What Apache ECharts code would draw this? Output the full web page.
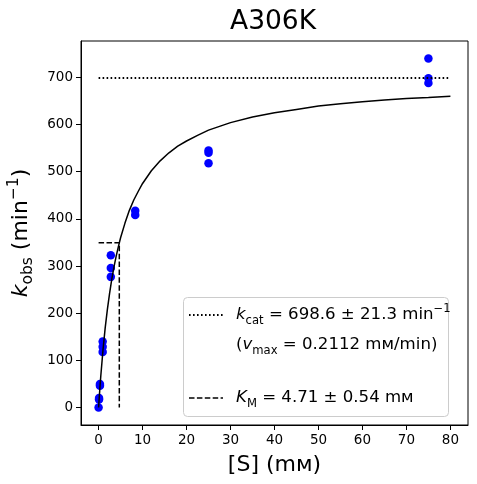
<!DOCTYPE html>
<html>
<head>
<meta charset="utf-8">
<script src="https://cdn.jsdelivr.net/npm/echarts@6/dist/echarts.min.js"></script>
<style>
  html, body { margin: 0; padding: 0; background: #fff; }
  #chart { width: 477px; height: 484px; }
</style>
</head>
<body>
<div id="chart"></div>
<script>
// measured points: substrate concentration (mM) and k_obs (1/min)
const subConc = [0, 0.103, 0.103, 0.309, 0.309, 0.926, 0.926, 0.926, 2.78, 2.78, 2.78, 8.33, 8.33, 25, 25, 25, 75, 75, 75];
const kObs = [0, 17, 20, 46, 50, 118, 129, 140, 277, 296, 323, 408, 417, 518, 540, 545, 688, 698, 740];

// fitted curve
const fitX = [0, 0.25, 0.5, 1, 1.5, 2, 2.5, 3, 3.5, 4, 4.5, 5, 6, 7, 8, 9, 10, 12, 14, 16, 18, 20, 22.5, 25, 27.5, 30, 35, 40, 45, 50, 55, 60, 65, 70, 75, 80];
const fitY = [0, 35, 67, 122, 169, 208, 242, 272, 298, 321, 341, 360, 391, 418, 440, 458, 475, 502, 523, 540, 554, 565, 577, 588, 596, 604, 616, 625, 632, 639, 644, 648, 652, 655, 657, 660];

// kcat level and KM marker
const kcat = 698.6;
const kmX = 4.71;
const halfVmax = 349.3;

const xTicks = [0, 10, 20, 30, 40, 50, 60, 70, 80];
const yTicks = [0, 100, 200, 300, 400, 500, 600, 700];

const font = 'DejaVu Sans';
var chart = echarts.init(document.getElementById('chart'));

var points = subConc.map((x, i) => [x, kObs[i]]);
var curve = fitX.map((x, i) => [x, fitY[i]]);

var legendRich = {
  n: { fontFamily: font, fontSize: 16.6, lineHeight: 24, color: '#000' },
  k: { fontFamily: font, fontSize: 16.6, lineHeight: 24, fontStyle: 'italic', color: '#000' },
  sub: { fontFamily: font, fontSize: 11.6, lineHeight: 12, verticalAlign: 'bottom', color: '#000' },
  sup: { fontFamily: font, fontSize: 11.6, lineHeight: 12, verticalAlign: 'top', color: '#000' }
};

var option = {
  backgroundColor: '#fff',
  animation: false,
  title: {
    text: 'A306K',
    left: 230,
    top: 9,
    padding: 0,
    textStyle: { fontFamily: font, fontSize: 26.5, fontWeight: 'normal', color: '#000', lineHeight: 26 }
  },
  grid: {
    left: 81, right: 9, top: 41, bottom: 59,
    outerBoundsMode: 'none',
    containLabel: false,
    show: true, borderColor: '#000', borderWidth: 1, backgroundColor: 'transparent'
  },
  xAxis: {
    type: 'value',
    min: -4,
    max: 84,
    name: '[S] (mᴍ)',
    nameLocation: 'middle',
    nameGap: 29,
    nameTextStyle: { fontFamily: font, fontSize: 22, color: '#000', lineHeight: 22 },
    splitLine: { show: false },
    axisLine: { onZero: false, lineStyle: { color: '#000', width: 1 } },
    axisTick: { customValues: xTicks, length: 5, lineStyle: { color: '#000' } },
    axisLabel: { customValues: xTicks, fontFamily: font, fontSize: 13.5, color: '#000', margin: 8 }
  },
  yAxis: {
    type: 'value',
    min: -37,
    max: 777,
    name: '{k|k}{sub|obs}{n| (min}{sup|−1}{n|)}',
    nameLocation: 'middle',
    nameRotate: 90,
    nameGap: 42,
    nameTextStyle: {
      rich: {
        n: { fontFamily: font, fontSize: 22, lineHeight: 30, color: '#000' },
        k: { fontFamily: font, fontSize: 22, lineHeight: 30, fontStyle: 'italic', color: '#000' },
        sub: { fontFamily: font, fontSize: 15.5, lineHeight: 16, verticalAlign: 'bottom', color: '#000' },
        sup: { fontFamily: font, fontSize: 15.5, lineHeight: 16, verticalAlign: 'top', color: '#000' }
      }
    },
    splitLine: { show: false },
    axisLine: { show: true, onZero: false, lineStyle: { color: '#000', width: 1 } },
    axisTick: { show: true, customValues: yTicks, length: 5, lineStyle: { color: '#000' } },
    axisLabel: { customValues: yTicks, fontFamily: font, fontSize: 13.5, color: '#000', margin: 8 }
  },
  series: [
    {
      name: 'data',
      type: 'scatter',
      data: points,
      symbol: 'circle',
      symbolSize: 8.5,
      itemStyle: { color: '#0000ff', opacity: 1 },
      z: 2
    },
    {
      name: 'fit',
      type: 'line',
      data: curve,
      showSymbol: false,
      lineStyle: { color: '#000', width: 1.5 },
      z: 3
    },
    {
      name: 'kcat',
      type: 'line',
      data: [[0, kcat], [80, kcat]],
      showSymbol: false,
      lineStyle: { color: '#000', width: 1.8, type: [1.6, 2.4] },
      z: 3
    },
    {
      name: 'KM',
      type: 'line',
      data: [[0, halfVmax], [kmX, halfVmax], [kmX, 0]],
      showSymbol: false,
      lineStyle: { color: '#000', width: 1.5, type: [5.5, 2.4] },
      z: 3
    }
  ],
  graphic: [
    {
      type: 'rect',
      z: 10,
      shape: { x: 183.5, y: 297.5, width: 265, height: 119, r: 4 },
      style: { fill: 'rgba(255,255,255,0.8)', stroke: '#cccccc', lineWidth: 1 }
    },
    {
      type: 'line',
      z: 11,
      shape: { x1: 189, y1: 315, x2: 223, y2: 315 },
      style: { stroke: '#000', lineWidth: 1.8, lineDash: [1.6, 2.4] }
    },
    {
      type: 'line',
      z: 11,
      shape: { x1: 189, y1: 398, x2: 223, y2: 398 },
      style: { stroke: '#000', lineWidth: 1.5, lineDash: [5.5, 2.4] }
    },
    {
      type: 'text',
      z: 11,
      x: 236, y: 315,
      style: { text: '{k|k}{sub|cat}{n| = 698.6 ± 21.3 min}{sup|−1}', rich: legendRich, verticalAlign: 'middle' }
    },
    {
      type: 'text',
      z: 11,
      x: 236, y: 345,
      style: { text: '{n|(}{k|v}{sub|max}{n| = 0.2112 mᴍ/min)}', rich: legendRich, verticalAlign: 'middle' }
    },
    {
      type: 'text',
      z: 11,
      x: 236, y: 398,
      style: { text: '{k|K}{sub|M}{n| = 4.71 ± 0.54 mᴍ}', rich: legendRich, verticalAlign: 'middle' }
    }
  ]
};

chart.setOption(option);
</script>
</body>
</html>
